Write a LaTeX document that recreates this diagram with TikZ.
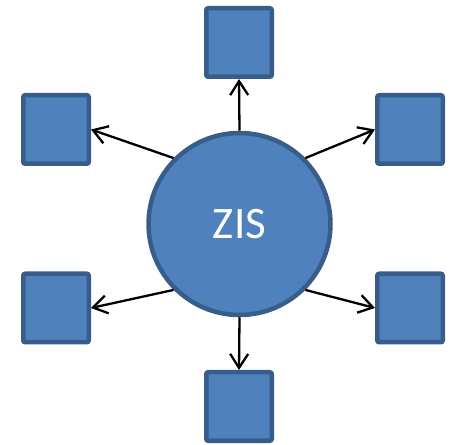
\documentclass[tikz,border=0pt]{standalone}
\usepackage{fontspec}
\setmainfont{Carlito}
\usetikzlibrary{arrows.meta}
\definecolor{boxfill}{HTML}{4F81BD}
\definecolor{boxline}{HTML}{385D8A}
\begin{document}
\begin{tikzpicture}[x=1pt,y=1pt,
  hub/.style={circle,draw=boxline,fill=boxfill,line width=4.5pt,minimum size=182pt,inner sep=0pt,text=white,font=\fontsize{45}{50}\selectfont},
  leaf/.style={rectangle,rounded corners=2pt,draw=boxline,fill=boxfill,line width=4.5pt,minimum width=65.5pt,minimum height=68.5pt,inner sep=0pt},
  link/.style={line width=2.3pt,-{Straight Barb[length=14pt,width=18pt,line width=2.3pt]}}]
\useasboundingbox (0,0) rectangle (452,444);
\node[hub] (zis) at (239.5,220) {ZIS};
\node[leaf] (t) at (239,401.5) {};
\node[leaf] (ul) at (56,314.5) {};
\node[leaf] (ur) at (410,314.5) {};
\node[leaf] (ll) at (56,136) {};
\node[leaf] (lr) at (410,136) {};
\node[leaf] (b) at (239,37.5) {};
\draw[link] (zis.north) -- (t.south);
\draw[link] (zis.south) -- (b.north);
\draw[link] (zis.135) -- (ul.east);
\draw[link] (zis.45) -- (ur.west);
\draw[link] (zis.225) -- (ll.east);
\draw[link] (zis.-45) -- (lr.west);
\end{tikzpicture}
\end{document}
